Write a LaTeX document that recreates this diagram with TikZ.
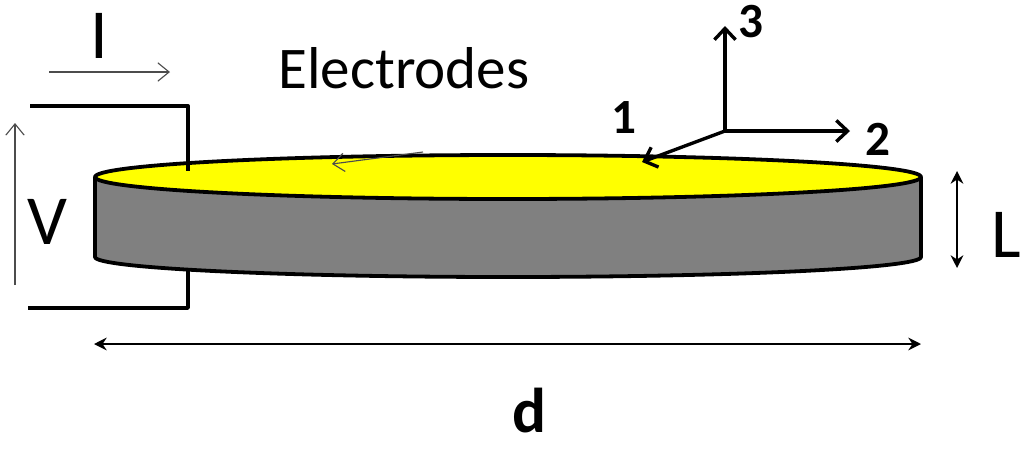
\documentclass[tikz,border=0pt]{standalone}
\usepackage{fontspec}
\setmainfont{Carlito}
\usetikzlibrary{arrows.meta}

\definecolor{discyellow}{RGB}{255,255,0}
\definecolor{discgray}{RGB}{128,128,128}

\tikzset{
    label big/.style={font = {\fontsize{50}{50}\selectfont}, black, inner sep=0pt},
    label bold/.style={font = {\fontsize{35}{35}\selectfont\bfseries}, black, inner sep=0pt},
    outline/.style={line width=2.7pt, black, line join=round},
    wire/.style={line width=2.4pt, black, line join=round},
    thin arrow/.style={line width=0.8pt, black!70, -{Straight Barb[length=8pt,width=13pt]}},
    axis arrow/.style={line width=2.4pt, black, -{Straight Barb[length=8pt,width=15pt]}},
    size arrow/.style={line width=2pt, black, {Stealth[length=9pt,width=9pt]}-{Stealth[length=9pt,width=9pt]}}
}

\begin{document}
\begin{tikzpicture}[x=0.025cm, y=-0.025cm]
        \useasboundingbox (0, 0) rectangle (1024, 448);

        % disc
        \draw[outline, fill=discgray] (95, 177) -- (95, 257) arc[start angle=180, end angle=0, x radius=413, y radius=20] -- (921, 177) -- cycle;
        \draw[outline, fill=discyellow] (508, 177) ellipse[x radius=413, y radius=22];

        % wires
        \coordinate (topwire start) at (30, 106);
        \coordinate (topwire corner) at (188, 106);
        \coordinate (topwire end) at (188, 171);
        \coordinate (botwire start) at (28, 308);
        \coordinate (botwire corner) at (188, 308);
        \coordinate (botwire end) at (188, 271);
        \draw[wire] (topwire start) -- (topwire corner) -- (topwire end);
        \draw[wire] (botwire start) -- (botwire corner) -- (botwire end);

        % current and voltage
        \coordinate (current start) at (49, 72);
        \coordinate (current end) at (170, 72);
        \coordinate (voltage start) at (15, 285);
        \coordinate (voltage end) at (15, 123);
        \coordinate (surface start) at (423, 152);
        \coordinate (surface end) at (332, 164);
        \draw[thin arrow] (current start) -- (current end);
        \draw[thin arrow] (voltage start) -- (voltage end);
        \draw[thin arrow] (surface start) -- (surface end);

        % axes
        \coordinate (origin) at (725, 131);
        \coordinate (axis one) at (642, 162);
        \coordinate (axis two) at (850, 131);
        \coordinate (axis three) at (725, 26);
        \draw[axis arrow] (origin) -- (axis one);
        \draw[axis arrow] (origin) -- (axis two);
        \draw[axis arrow] (origin) -- (axis three);

        % sizes
        \coordinate (thick top) at (957, 171);
        \coordinate (thick bot) at (957, 268);
        \coordinate (diam left) at (94, 344);
        \coordinate (diam right) at (921, 344);
        \draw[size arrow] (thick top) -- (thick bot);
        \draw[size arrow] (diam left) -- (diam right);

        % labels
        \node[label big] (current) at (99, 36) {I};
        \node[font = {\fontsize{42}{42}\selectfont}, black, inner sep=0pt] (electrodes) at (404, 68) {Electrodes};
        \node[label big] (voltage) at (47, 222) {V};
        \node[label big] (thickness) at (1006, 235) {L};
        \node[font = {\fontsize{45}{45}\selectfont\bfseries}, black, inner sep=0pt, anchor=base] (diameter) at (529, 432) {d};
        \node[label bold] (one) at (624, 118) {1};
        \node[label bold] (two) at (878, 139) {2};
        \node[label bold] (three) at (751, 22) {3};

    \end{tikzpicture}
\end{document}
